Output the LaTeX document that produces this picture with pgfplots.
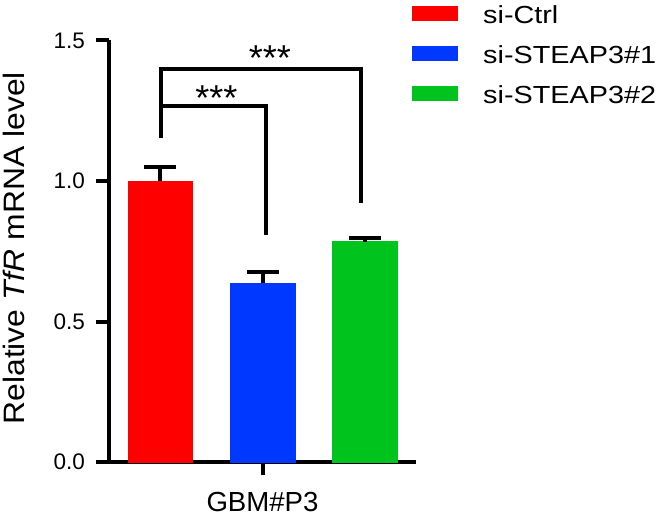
\documentclass[border=0pt]{standalone}
\usepackage{pgfplots}
\pgfplotsset{compat=1.18}
\usepackage{fontspec}
\setmainfont{Liberation Sans}
\newfontfamily\legfont[FakeStretch=1.166]{Liberation Sans}
\newfontfamily\ylabfont[FakeStretch=1.08]{Liberation Sans}
\definecolor{cred}{RGB}{255,0,0}
\definecolor{cblue}{RGB}{0,56,255}
\definecolor{cgreen}{RGB}{0,196,30}
\begin{document}
\begin{tikzpicture}[x=1pt,y=1pt]
\useasboundingbox (0,0) rectangle (661,517);
\begin{axis}[
  at={(109pt,55pt)}, anchor=south west,
  scale only axis, width=307pt, height=421.5pt,
  xmin=0.5, xmax=3.5, ymin=0, ymax=1.5,
  axis x line=bottom, axis y line=left,
  axis line style={line width=4pt, -},
  major tick style={line width=4pt, black},
  tick align=outside,
  major tick length=13pt,
  xtick={2}, xticklabels={GBM\#P3},
  xticklabel style={font=\fontsize{27.6}{28}\selectfont, inner sep=0pt, anchor=base, yshift=-36.7pt},
  ytick={0,0.5,1,1.5},
  /pgf/number format/assume math mode=true,
  yticklabel style={font=\fontsize{22.5}{23}\selectfont, inner sep=0pt, anchor=east, xshift=-11pt,
    /pgf/number format/fixed, /pgf/number format/fixed zerofill,
    /pgf/number format/precision=1},
  ybar, bar width=64.5pt, bar shift=0pt,
  clip=false,
  error bars/y dir=plus, error bars/y explicit,
  error bars/error bar style={line width=4pt, black},
  error bars/error mark options={rotate=90, mark size=16pt, line width=4pt, black},
]
\addplot[fill=cred, draw=cred] coordinates {(1,1.0) +- (0,0.049)};
\addplot[fill=cblue, draw=cblue] coordinates {(2,0.636) +- (0,0.041)};
\addplot[fill=cgreen, draw=cgreen] coordinates {(3,0.784) +- (0,0.014)};
\draw[line width=4pt] (axis cs:1.005,1.152) |- (axis cs:2.966,1.399) -- (axis cs:2.966,0.921);
\draw[line width=4pt] (axis cs:1.027,1.267) -| (axis cs:2.032,0.808);
\node[anchor=base, inner sep=0, font=\fontsize{36}{36}\selectfont] at (axis cs:2.073,1.395) {***};
\node[anchor=base, inner sep=0, font=\fontsize{36}{36}\selectfont] at (axis cs:1.55,1.252) {***};
\end{axis}
\fill[cred] (412,496) rectangle (458,511);
\fill[cblue] (412,456) rectangle (458,471);
\fill[cgreen] (412,416) rectangle (458,431);
\node[anchor=base west, inner sep=0] at (483,493.7) {\legfont\fontsize{24.7}{25}\selectfont si-Ctrl};
\node[anchor=base west, inner sep=0] at (483,453.7) {\legfont\fontsize{24.7}{25}\selectfont si-STEAP3\#1};
\node[anchor=base west, inner sep=0] at (483,413.7) {\legfont\fontsize{24.7}{25}\selectfont si-STEAP3\#2};
\node[rotate=90, anchor=base, inner sep=0] at (25,268.7) {\ylabfont\fontsize{29.5}{30}\selectfont Relative \textit{TfR} mRNA level};
\end{tikzpicture}
\end{document}
